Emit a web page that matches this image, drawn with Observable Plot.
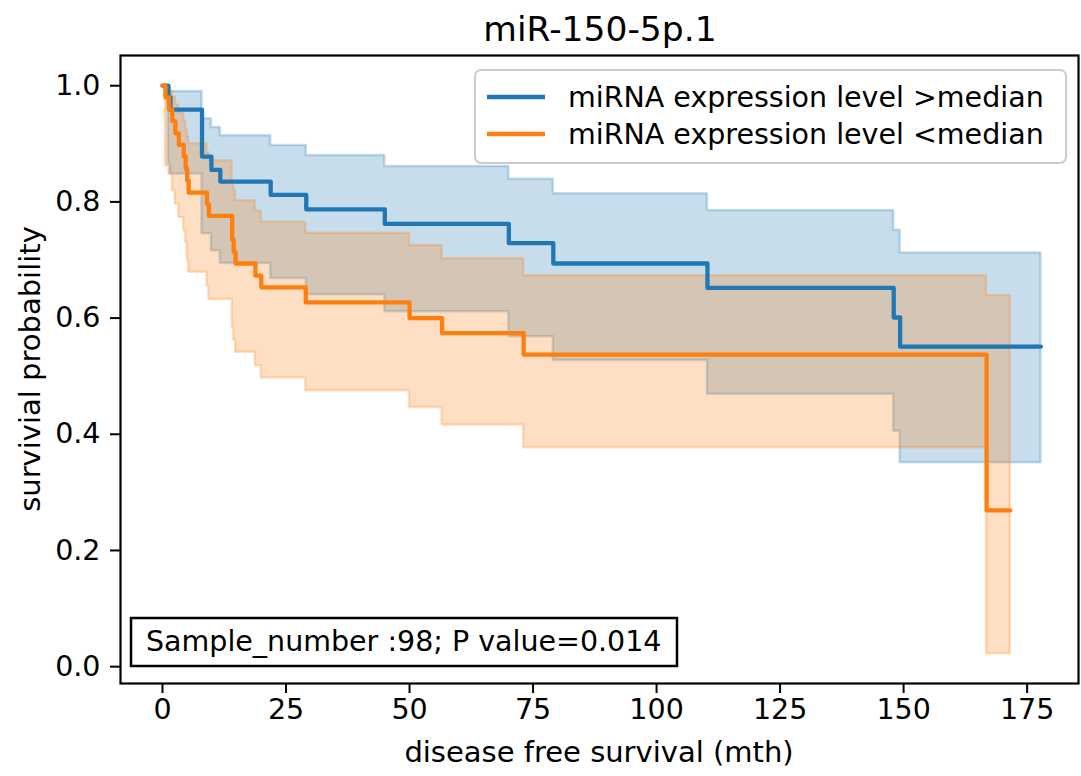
<!DOCTYPE html>
<html><head><meta charset="utf-8">
<script src="https://cdn.jsdelivr.net/npm/d3@7"></script>
<script src="https://cdn.jsdelivr.net/npm/@observablehq/plot@0.6"></script>
<style>body{margin:0;background:#fff;} #chart{width:1081px;height:776px;}</style>
</head><body><div id="chart"></div>
<script>
const title = "miR-150-5p.1";
const xLabel = "disease free survival (mth)";
const yLabel = "survivial probability";
const seriesNames = ["miRNA expression level >median", "miRNA expression level <median"];
const annotation = "Sample_number :98; P value=0.014";
const xTicks = [0, 25, 50, 75, 100, 125, 150, 175];
const yTicks = [0, 0.2, 0.4, 0.6, 0.8, 1.0];

// Group: miRNA expression level >median
const highTime  = [0, 1.2, 1.6, 8.0, 9.9, 11.7, 21.9, 29.1, 45.0, 70.1, 79.1, 110.3, 148.0, 149.3, 177.8];
const highSurv  = [1.0, 0.980, 0.959, 0.878, 0.855, 0.835, 0.812, 0.787, 0.762, 0.729, 0.694, 0.652, 0.601, 0.551, 0.551];
const highUpper = [1.0, 0.997, 0.990, 0.943, 0.928, 0.914, 0.897, 0.880, 0.861, 0.839, 0.814, 0.785, 0.751, 0.712, 0.712];
const highLower = [1.0, 0.866, 0.848, 0.745, 0.716, 0.694, 0.668, 0.640, 0.611, 0.568, 0.527, 0.469, 0.405, 0.351, 0.351];

// Group: miRNA expression level <median
const lowTime  = [0, 0.6, 1.3, 2.0, 2.6, 3.3, 4.3, 4.7, 5.0, 5.3, 9.0, 9.4, 14.1, 14.4, 14.8, 18.8, 20.0, 29.0, 50.0, 56.6, 73.1, 166.8, 171.6];
const lowSurv  = [1.0, 0.980, 0.959, 0.939, 0.918, 0.898, 0.878, 0.857, 0.837, 0.816, 0.796, 0.776, 0.735, 0.714, 0.694, 0.673, 0.653, 0.627, 0.600, 0.574, 0.537, 0.269, 0.269];
const lowUpper = [1.0, 0.997, 0.990, 0.980, 0.967, 0.953, 0.940, 0.925, 0.912, 0.900, 0.885, 0.871, 0.834, 0.820, 0.802, 0.784, 0.765, 0.746, 0.725, 0.702, 0.673, 0.639, 0.639];
const lowLower = [1.0, 0.862, 0.848, 0.819, 0.796, 0.773, 0.750, 0.730, 0.699, 0.679, 0.655, 0.632, 0.584, 0.562, 0.541, 0.518, 0.497, 0.475, 0.446, 0.416, 0.377, 0.022, 0.022];

const colors = ["#1f77b4", "#ff7f0e"];

const rows = (name, t, s, lo, hi) => t.map((d, i) => ({group: name, time: d, surv: s[i], lower: lo[i], upper: hi[i]}));
const high = rows(seriesNames[0], highTime, highSurv, highLower, highUpper);
const low = rows(seriesNames[1], lowTime, lowSurv, lowLower, lowUpper);

const ciOpts = (c) => ({x: "time", y1: "lower", y2: "upper", curve: "step-after", fill: c, fillOpacity: 0.25, stroke: c, strokeOpacity: 0.25, strokeWidth: 2.5});
const lineOpts = (c) => ({x: "time", y: "surv", curve: "step-after", stroke: c, strokeWidth: 4.3, strokeLinejoin: "round"});

const plot = Plot.plot({
  width: 1081, height: 776,
  marginLeft: 120, marginRight: 3, marginTop: 55, marginBottom: 93,
  style: {fontFamily: "DejaVu Sans", fontSize: "28px", color: "#000", background: "#fff", overflow: "visible"},
  x: {domain: [-8.5, 185.4]},
  y: {domain: [-0.029, 1.052]},
  marks: [
    Plot.areaY(high, ciOpts(colors[0])),
    Plot.areaY(low, ciOpts(colors[1])),
    Plot.line(high, lineOpts(colors[0])),
    Plot.line(low, lineOpts(colors[1])),
    Plot.frame({stroke: "#000", strokeWidth: 2.2}),
    Plot.axisX(xTicks, {tickSize: 10, tickPadding: 5, label: null, tickFormat: d => String(d), strokeWidth: 2, fontSize: 28.5}),
    Plot.axisY(yTicks, {tickSize: 10, tickPadding: 10, label: null, tickFormat: d3.format(".1f"), strokeWidth: 2, fontSize: 28.5})
  ]
});
document.getElementById("chart").appendChild(plot);

const svg = d3.select(plot);
const font = "DejaVu Sans";
svg.append("text").attr("x", 600).attr("y", 41).attr("text-anchor", "middle")
  .attr("font-family", font).attr("font-size", 34.5).attr("fill", "#000").text(title);
svg.append("text").attr("x", 599).attr("y", 762).attr("text-anchor", "middle")
  .attr("font-family", font).attr("font-size", 29).attr("fill", "#000").text(xLabel);
svg.append("text").attr("transform", "translate(40,369) rotate(-90)").attr("text-anchor", "middle")
  .attr("font-family", font).attr("font-size", 29).attr("fill", "#000").text(yLabel);

// legend
const lg = svg.append("g");
lg.append("rect").attr("x", 475).attr("y", 70).attr("width", 591).attr("height", 93).attr("rx", 6)
  .attr("fill", "#fff").attr("fill-opacity", 0.8).attr("stroke", "#cccccc").attr("stroke-width", 2);
seriesNames.forEach((name, i) => {
  const yy = 97 + i * 37;
  lg.append("line").attr("x1", 487).attr("x2", 545).attr("y1", yy).attr("y2", yy)
    .attr("stroke", colors[i]).attr("stroke-width", 4.3);
  lg.append("text").attr("x", 568).attr("y", yy + 10).attr("text-anchor", "start")
    .attr("font-family", font).attr("font-size", 28.5).attr("fill", "#000").text(name);
});

// annotation box
const ab = svg.append("g");
ab.append("rect").attr("x", 131).attr("y", 618).attr("width", 546).attr("height", 48)
  .attr("fill", "#fff").attr("stroke", "#000").attr("stroke-width", 2.5);
ab.append("text").attr("x", 146).attr("y", 651).attr("text-anchor", "start")
  .attr("font-family", font).attr("font-size", 28.5).attr("fill", "#000").text(annotation);
</script></body></html>
